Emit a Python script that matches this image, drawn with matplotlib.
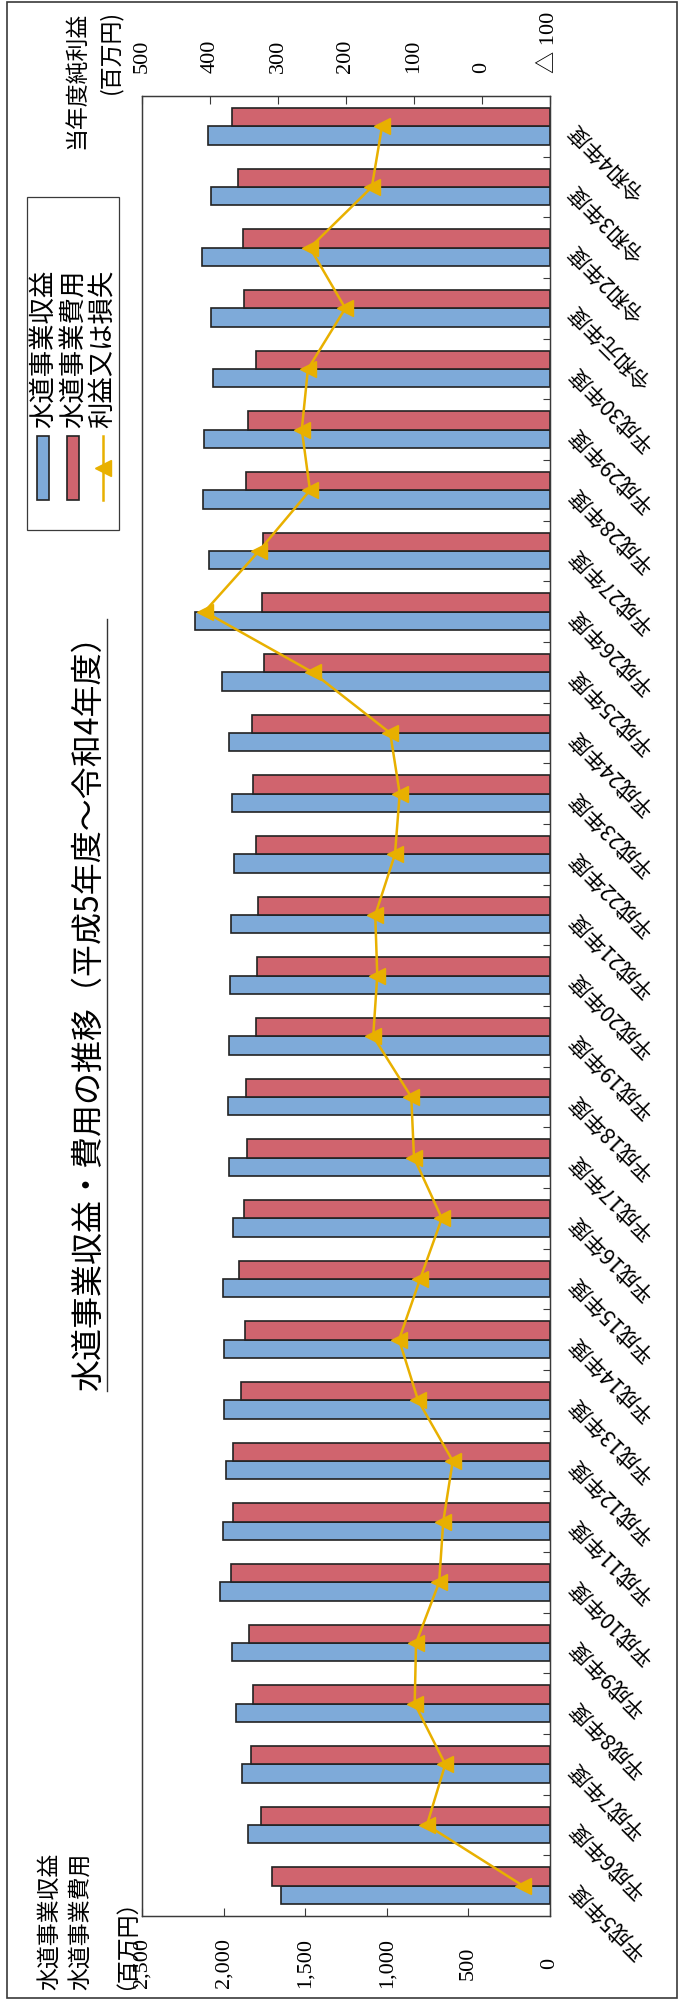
import numpy as np
import matplotlib.pyplot as plt
from matplotlib.patches import Rectangle
from matplotlib.lines import Line2D

plt.rcParams['font.family'] = ['Noto Sans CJK JP', 'DejaVu Sans']
NUM_FONT = ['Liberation Serif', 'Noto Sans CJK JP', 'DejaVu Sans']

# 水道事業の収益・費用（百万円）と当年度純利益（百万円）
years = ['平成5年度', '平成6年度', '平成7年度', '平成8年度', '平成9年度',
         '平成10年度', '平成11年度', '平成12年度', '平成13年度', '平成14年度',
         '平成15年度', '平成16年度', '平成17年度', '平成18年度', '平成19年度',
         '平成20年度', '平成21年度', '平成22年度', '平成23年度', '平成24年度',
         '平成25年度', '平成26年度', '平成27年度', '平成28年度', '平成29年度',
         '平成30年度', '令和元年度', '令和2年度', '令和3年度', '令和4年度']
revenue = [1648, 1850, 1887, 1924, 1948, 2022, 2004, 1985, 1997, 1997,
           2004, 1942, 1967, 1973, 1967, 1961, 1955, 1936, 1948, 1967,
           2010, 2175, 2089, 2126, 2120, 2065, 2077, 2132, 2077, 2095]
expense = [1703, 1771, 1832, 1820, 1844, 1955, 1942, 1942, 1893, 1869,
           1905, 1875, 1856, 1863, 1801, 1795, 1789, 1801, 1820, 1826,
           1752, 1765, 1758, 1863, 1850, 1801, 1875, 1881, 1912, 1948]
net_income = [-60, 81, 54, 99, 97, 63, 57, 43, 94, 122,
              91, 59, 100, 104, 160, 154, 157, 128, 121, 135,
              249, 408, 328, 253, 265, 256, 201, 253, 162, 147]

rev_ticks = [0, 500, 1000, 1500, 2000, 2500]
rev_ticklabels = ['0', '500', '1,000', '1,500', '2,000', '2,500']
net_ticks = [500, 400, 300, 200, 100, 0, -100]
net_ticklabels = ['500', '400', '300', '200', '100', '0', '△ 100']

title = '水道事業収益・費用の推移（平成5年度〜令和4年度）'

BLUE = '#7EAAD9'
RED = '#D0646E'
GOLD = '#E8B000'
EDGE = '#222222'
FRAME = '#3a3a3a'

W, H = 694, 2001
fig = plt.figure(figsize=(W / 100, H / 100), dpi=100)


def fx(px):
    return px / W


def fy(py):
    return 1 - py / H


# the whole chart is laid out turned on its side: values run right-to-left
ax = fig.add_axes([fx(142), fy(1916), (550 - 142) / W, (1916 - 96) / H])
pos = np.arange(len(years))
bh = 0.3
ax.barh(pos - bh / 2, revenue, height=bh, color=BLUE, edgecolor=EDGE, linewidth=1.2, zorder=2)
ax.barh(pos + bh / 2, expense, height=bh, color=RED, edgecolor=EDGE, linewidth=1.2, zorder=2)
ax.set_xlim(2500, 0)
ax.set_ylim(-0.5, len(years) - 0.5)

ax.set_xticks(rev_ticks)
ax.set_xticklabels(rev_ticklabels, rotation=90, fontsize=16, family=NUM_FONT)
ax.tick_params(axis='x', direction='in', length=6, width=0.8, color=FRAME, pad=34)
for lab in ax.get_xticklabels():
    lab.set_va('center')

ax.yaxis.tick_right()
ax.set_yticks(pos)
ax.set_yticklabels(years, fontsize=15.5)
ax.set_yticks(pos[:-1] + 0.5, minor=True)
ax.tick_params(axis='y', which='major', length=0, pad=16)
ax.tick_params(axis='y', which='minor', direction='in', length=5, width=0.8, color=FRAME)
for lab in ax.get_yticklabels():
    lab.set_rotation(135)
    lab.set_rotation_mode('anchor')
    lab.set_ha('right')
    lab.set_va('center')

for s in ax.spines.values():
    s.set_color(FRAME)
    s.set_linewidth(0.9)

ax2 = ax.twiny()
ax2.plot(net_income, pos, color=GOLD, lw=1.8, marker='<', ms=11, zorder=3)
ax2.set_xlim(500, -100)
ax2.set_xticks(net_ticks)
ax2.set_xticklabels(net_ticklabels, rotation=90, fontsize=16, family=NUM_FONT)
ax2.tick_params(axis='x', direction='in', length=6, width=0.8, color=FRAME, pad=16.5)
for s in ax2.spines.values():
    s.set_color(FRAME)
    s.set_linewidth(0.9)

# axis captions
fig.text(fx(77), fy(12), '当年度純利益', rotation=90, ha='center', va='top', fontsize=16.5)
fig.text(fx(110), fy(10), '(百万円)', rotation=90, ha='center', va='top', fontsize=16.5)
fig.text(fx(50), fy(1990), '水道事業収益', rotation=90, ha='center', va='bottom', fontsize=16.5)
fig.text(fx(80), fy(1990), '水道事業費用', rotation=90, ha='center', va='bottom', fontsize=16.5)
fig.text(fx(114), fy(1990), '（百万円）', rotation=90, ha='center', va='bottom', fontsize=16.5)

# title with underline on its right side
t = fig.text(fx(89), fy(1005), title, rotation=90, ha='center', va='center', fontsize=23)
fig.canvas.draw()
bb = t.get_window_extent()
inv = fig.transFigure.inverted()
(x0, y0), (x1, y1) = inv.transform([(bb.x0, bb.y0), (bb.x1, bb.y1)])
fig.add_artist(Line2D([x1 + 2 / W, x1 + 2 / W], [y0, y1], color='#333333', lw=1.0,
                      transform=fig.transFigure))

# legend box, drawn by hand in the rotated orientation
fig.add_artist(Rectangle((fx(27), fy(530)), (119 - 27) / W, (530 - 197) / H,
                         transform=fig.transFigure, fill=False, ec=FRAME, lw=0.9))
fig.add_artist(Rectangle((fx(37), fy(500)), 12 / W, 64 / H, transform=fig.transFigure,
                         fc=BLUE, ec=EDGE, lw=1.2))
fig.add_artist(Rectangle((fx(67), fy(500)), 12 / W, 64 / H, transform=fig.transFigure,
                         fc=RED, ec=EDGE, lw=1.2))
fig.add_artist(Line2D([fx(103), fx(103)], [fy(500), fy(436)], color=GOLD, lw=1.8,
                      transform=fig.transFigure))
fig.add_artist(Line2D([fx(103)], [fy(468)], color=GOLD, marker='<', ms=11,
                      transform=fig.transFigure))
for xc, txt in [(43, '水道事業収益'), (73, '水道事業費用'), (103, '利益又は損失')]:
    fig.text(fx(xc), fy(428), txt, rotation=90, ha='center', va='bottom', fontsize=19)

# outer border
fig.add_artist(Rectangle((fx(7), fy(1998)), (677 - 7) / W, (1998 - 2) / H,
                         transform=fig.transFigure, fill=False, ec=FRAME, lw=1.2))

fig.savefig('out.png', dpi=100)
